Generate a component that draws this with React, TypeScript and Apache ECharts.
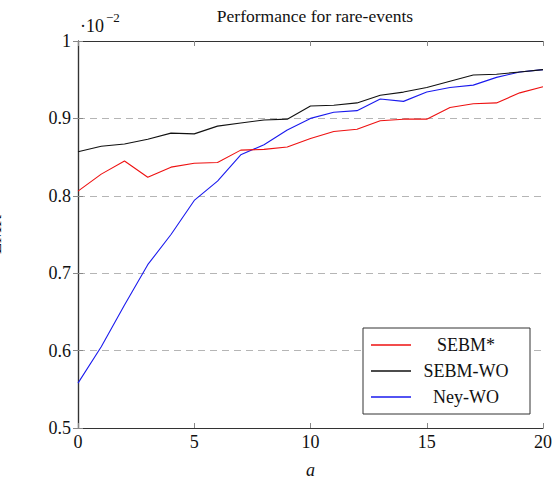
import React, { useEffect, useRef } from "react";
import * as echarts from "echarts";

// x positions of the measurements
const xs: number[] = [0, 1, 2, 3, 4, 5, 6, 7, 8, 9, 10, 11, 12, 13, 14, 15, 16, 17, 18, 19, 20];

// error rates (×10^-2)
const sebmStar: number[] = [
  0.806, 0.828, 0.845, 0.824, 0.837, 0.842, 0.843, 0.859, 0.860, 0.863, 0.874,
  0.883, 0.886, 0.897, 0.899, 0.899, 0.914, 0.919, 0.920, 0.933, 0.941,
];
const sebmWO: number[] = [
  0.857, 0.864, 0.867, 0.873, 0.881, 0.880, 0.890, 0.894, 0.898, 0.899, 0.916,
  0.917, 0.920, 0.930, 0.934, 0.940, 0.948, 0.956, 0.957, 0.960, 0.963,
];
const neyWO: number[] = [
  0.558, 0.605, 0.659, 0.711, 0.750, 0.794, 0.819, 0.853, 0.866, 0.885, 0.900,
  0.908, 0.910, 0.925, 0.922, 0.934, 0.940, 0.943, 0.953, 0.960, 0.963,
];

const seriesNames: string[] = ["SEBM*", "SEBM-WO", "Ney-WO"];
const seriesColors: string[] = ["#ee1111", "#111111", "#1a1aee"];
const seriesValues: number[][] = [sebmStar, sebmWO, neyWO];

const FONT = "Liberation Serif";

export default function App() {
  const ref = useRef<HTMLDivElement>(null);

  useEffect(() => {
    if (!ref.current) return;
    const chart = echarts.init(ref.current, undefined, { renderer: "svg" });

    const axisLine = { show: true, lineStyle: { color: "#333", width: 1.2 } };
    const tickStyle = { show: true, inside: true, length: 5, lineStyle: { color: "#888", width: 1 } };

    chart.setOption({
      animation: false,
      backgroundColor: "#fff",
      title: {
        text: "Performance for rare-events",
        left: 310,
        top: 2,
        textAlign: "center",
        textStyle: { fontFamily: FONT, fontWeight: "normal", fontSize: 17.5, color: "#111" },
      },
      grid: { left: 78, right: 13, top: 41, bottom: 58, outerBoundsMode: "none", containLabel: false },
      legend: {
        orient: "vertical",
        left: 363,
        top: 328,
        padding: [8, 14, 8, 8],
        itemGap: 8,
        itemWidth: 40,
        itemHeight: 1.3,
        icon: "rect",
        borderColor: "#333",
        borderWidth: 1,
        borderRadius: 0,
        backgroundColor: "#fff",
        formatter: (name: string) => `{c|${name}}`,
        textStyle: {
          fontFamily: FONT,
          fontSize: 18,
          color: "#111",
          rich: { c: { width: 100, align: "center", fontFamily: FONT, fontSize: 18, lineHeight: 18 } },
        },
        data: seriesNames,
      },
      xAxis: [
        {
          type: "value",
          min: 0,
          max: 20,
          interval: 5,
          name: "a",
          nameLocation: "middle",
          nameGap: 33,
          nameTextStyle: { fontFamily: FONT, fontStyle: "italic", fontSize: 18, color: "#111" },
          axisLine,
          axisTick: tickStyle,
          axisLabel: { fontFamily: FONT, fontSize: 18, color: "#111", margin: 5 },
          splitLine: { show: false },
        },
        {
          type: "value",
          position: "top",
          min: 0,
          max: 20,
          interval: 5,
          axisLine,
          axisTick: tickStyle,
          axisLabel: { show: false },
          splitLine: { show: false },
        },
      ],
      yAxis: [
        {
          type: "value",
          min: 0.5,
          max: 1,
          interval: 0.1,
          name: "EMR",
          nameLocation: "middle",
          nameGap: 74,
          nameTextStyle: { fontFamily: FONT, fontSize: 18, color: "#111" },
          axisLine,
          axisTick: tickStyle,
          axisLabel: {
            fontFamily: FONT,
            fontSize: 18,
            color: "#111",
            margin: 7,
            formatter: (v: number) => (Math.abs(v - 1) < 1e-9 ? "1" : v.toFixed(1)),
          },
          splitLine: { show: true, lineStyle: { color: "#b5b5b5", type: [7, 5], width: 1 } },
        },
        {
          type: "value",
          position: "right",
          min: 0.5,
          max: 1,
          interval: 0.1,
          axisLine,
          axisTick: tickStyle,
          axisLabel: { show: false },
          splitLine: { show: false },
        },
      ],
      graphic: [
        {
          type: "text",
          left: 80,
          top: 17,
          style: { text: "·10", fontFamily: FONT, fontSize: 18, fill: "#111" },
        },
        {
          type: "text",
          left: 106,
          top: 11,
          style: { text: "−2", fontFamily: FONT, fontSize: 13, fill: "#111" },
        },
      ],
      series: seriesNames.map((name, i) => ({
        name,
        type: "line",
        data: xs.map((x, j) => [x, seriesValues[i][j]]),
        symbol: "none",
        lineStyle: { color: seriesColors[i], width: 1.1 },
        itemStyle: { color: seriesColors[i] },
        z: 3 - i,
      })),
    });

    return () => chart.dispose();
  }, []);

  return (
    <div
      ref={ref}
      style={{ position: "absolute", left: 0, top: 0, width: 556, height: 486 }}
    />
  );
}
